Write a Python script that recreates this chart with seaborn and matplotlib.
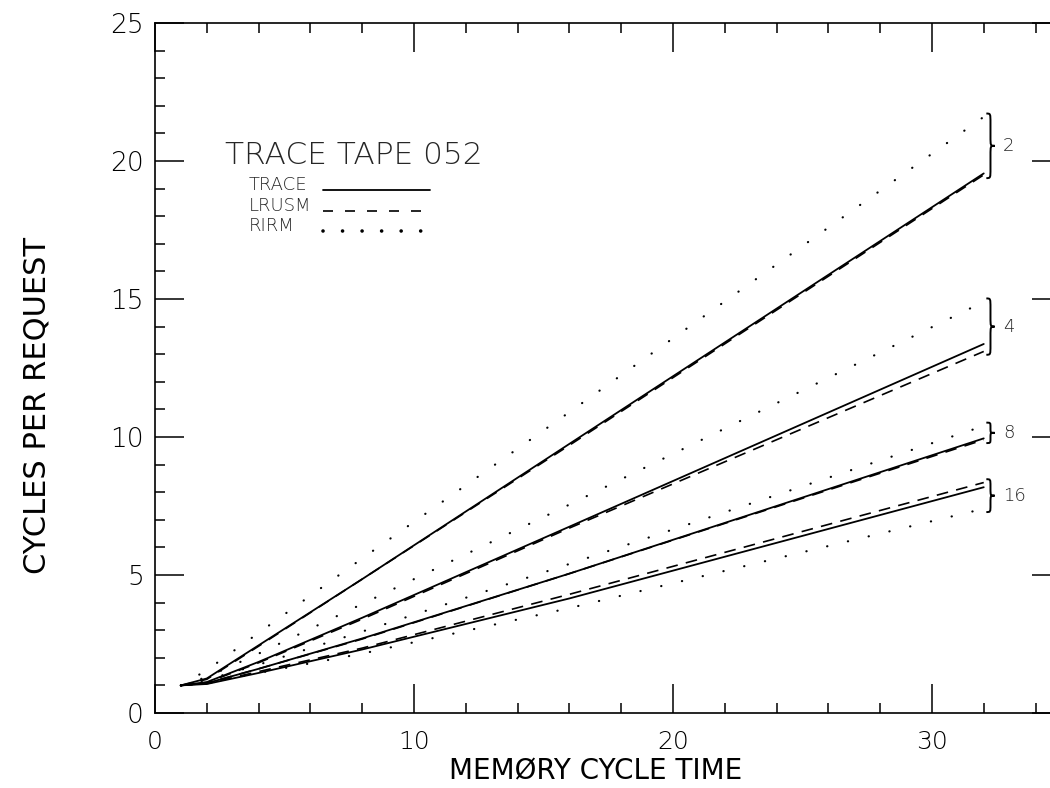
import numpy as np
import pandas as pd
import matplotlib
matplotlib.use("Agg")
import matplotlib.pyplot as plt
from matplotlib.path import Path
from matplotlib.patches import PathPatch
import seaborn as sns

# memory cycle time at which each curve was evaluated
cycle_time = [1, 2, 4, 8, 16, 32]

# cycles per request, one list per (model, number of modules)
trace_2 = [1.0, 1.25, 2.45, 4.85, 9.75, 19.55]
lrusm_2 = [1.0, 1.22, 2.42, 4.85, 9.70, 19.50]
rirm_2 = [1.0, 1.55, 2.90, 5.60, 10.90, 21.60]

trace_4 = [1.0, 1.12, 1.85, 3.45, 6.75, 13.37]
lrusm_4 = [1.0, 1.10, 1.82, 3.40, 6.70, 13.10]
rirm_4 = [1.0, 1.30, 2.15, 3.95, 7.55, 14.90]

trace_8 = [1.0, 1.08, 1.60, 2.70, 5.05, 9.95]
lrusm_8 = [1.0, 1.08, 1.60, 2.68, 5.05, 9.90]
rirm_8 = [1.0, 1.20, 1.75, 2.95, 5.40, 10.40]

trace_16 = [1.0, 1.05, 1.45, 2.30, 4.15, 8.18]
lrusm_16 = [1.0, 1.06, 1.50, 2.35, 4.30, 8.35]
rirm_16 = [1.0, 1.10, 1.45, 2.15, 3.80, 7.40]

module_counts = [2, 4, 8, 16]
model_names = ["TRACE", "LRUSM", "RIRM"]
x_major = [0, 10, 20, 30]
y_major = [0, 5, 10, 15, 20, 25]

series = {
    ("TRACE", 2): trace_2, ("LRUSM", 2): lrusm_2, ("RIRM", 2): rirm_2,
    ("TRACE", 4): trace_4, ("LRUSM", 4): lrusm_4, ("RIRM", 4): rirm_4,
    ("TRACE", 8): trace_8, ("LRUSM", 8): lrusm_8, ("RIRM", 8): rirm_8,
    ("TRACE", 16): trace_16, ("LRUSM", 16): lrusm_16, ("RIRM", 16): rirm_16,
}
rows = []
for (model, m), vals in series.items():
    for t, v in zip(cycle_time, vals):
        rows.append({"model": model, "modules": m, "time": t, "cycles": v})
df = pd.DataFrame(rows)

sns.set_style("ticks")
plt.rcParams["font.family"] = ["DejaVu Sans"]
plt.rcParams["font.weight"] = "light"

fig = plt.figure(figsize=(10.5, 7.88), dpi=100)
ax = fig.add_axes([0.1476, 0.0952, 0.8633, 0.8756])

line_styles = {
    "TRACE": dict(linestyle="-", linewidth=1.3),
    "LRUSM": dict(linestyle=(0, (7, 5)), linewidth=1.2),
    "RIRM": dict(linestyle=(0, (0.1, 9.5)), linewidth=1.6, dash_capstyle="round"),
}
for model in model_names:
    sns.lineplot(data=df[df["model"] == model], x="time", y="cycles",
                 units="modules", estimator=None, color="black",
                 legend=False, ax=ax, **line_styles[model])

ax.set_xlim(0, 35)
ax.set_ylim(0, 25)
ax.set_xticks(x_major)
ax.set_xticks(np.arange(0, 35, 2), minor=True)
ax.set_yticks(y_major)
ax.set_yticks(np.arange(0, 26, 1), minor=True)
ax.tick_params(which="both", direction="in", top=True, right=True,
               color="black", width=1.1)
ax.tick_params(which="major", length=21)
ax.tick_params(which="minor", length=7)
ax.tick_params(axis="x", labelsize=18, pad=12, labelcolor="black")
ax.tick_params(axis="y", labelsize=19, pad=8, labelcolor="black")
for sp in ax.spines.values():
    sp.set_linewidth(1.2)
    sp.set_color("black")

ax.set_xlabel("MEMØRY CYCLE TIME", fontsize=20, color="black")
ax.xaxis.set_label_coords(0.486, -0.065)
ax.set_ylabel("CYCLES PER REQUEST", fontsize=22, color="black")
ax.yaxis.set_label_coords(-0.114, 0.446)

# title and legend block
ax.text(0.0772, 0.795, "TRACE TAPE 052", fontsize=22.5, va="baseline",
        transform=ax.transAxes)
legend_rows = [("TRACE", 0.758), ("LRUSM", 0.728), ("RIRM", 0.698)]
key_styles = {
    "TRACE": dict(linestyle="-", linewidth=1.3),
    "LRUSM": dict(linestyle=(0, (6, 7.2)), linewidth=1.2),
    "RIRM": dict(linestyle=(0, (0.01, 5.4)), linewidth=2.6, dash_capstyle="round"),
}
for name, yb in legend_rows:
    ax.text(0.1037, yb, name, fontsize=13, va="baseline", transform=ax.transAxes)
    ax.plot([0.185, 0.303], [yb, yb], color="black", transform=ax.transAxes,
            **key_styles[name])


def curly_brace(ax, x0, y_low, y_high, width):
    xm = x0 + width / 2
    xt = x0 + width
    ym = (y_low + y_high) / 2
    q = min(0.22 * (y_high - y_low), 0.35)
    verts = [(x0, y_high), (xm, y_high), (xm, y_high), (xm, y_high - q),
             (xm, ym + q),
             (xm, ym), (xm, ym), (xt, ym),
             (xm, ym), (xm, ym), (xm, ym - q),
             (xm, y_low + q),
             (xm, y_low), (xm, y_low), (x0, y_low)]
    codes = [Path.MOVETO, Path.CURVE4, Path.CURVE4, Path.CURVE4,
             Path.LINETO,
             Path.CURVE4, Path.CURVE4, Path.CURVE4,
             Path.CURVE4, Path.CURVE4, Path.CURVE4,
             Path.LINETO,
             Path.CURVE4, Path.CURVE4, Path.CURVE4]
    ax.add_patch(PathPatch(Path(verts, codes), fill=False, lw=1.4,
                           edgecolor="black", clip_on=False))


for m in module_counts:
    ends = [series[(model, m)][-1] for model in model_names]
    lo, hi = min(ends) - 0.12, max(ends) + 0.12
    curly_brace(ax, 32.1, lo, hi, 0.32)
    ax.text(32.75, (lo + hi) / 2, str(m), fontsize=13, va="center", ha="left")

fig.savefig("out.png", dpi=100, facecolor="white")
